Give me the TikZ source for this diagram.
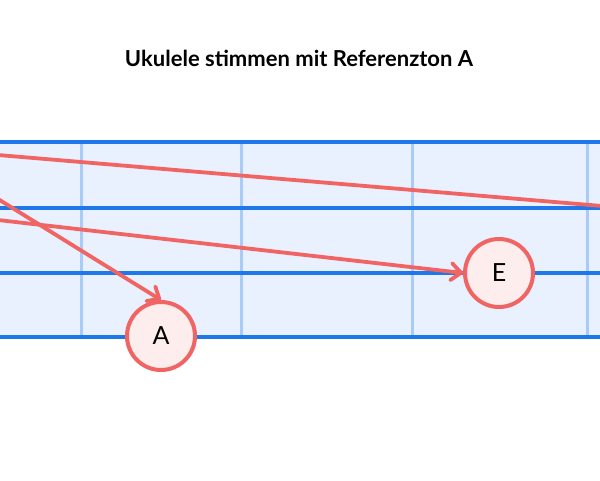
\documentclass[tikz,border=0pt]{standalone}
\usepackage{fontspec}
\setsansfont{Lato}
\usetikzlibrary{arrows.meta}
\definecolor{strblue}{HTML}{1F78EA}
\definecolor{fretblue}{HTML}{A8CBF8}
\definecolor{boardfill}{HTML}{E8F1FD}
\definecolor{redline}{HTML}{F06464}
\definecolor{notefill}{HTML}{FDEDED}
\tikzset{
  stringline/.style={draw=strblue,line width=4pt},
  fretline/.style={draw=fretblue,line width=3pt},
  arrowline/.style={draw=redline,line width=3.8pt,line cap=round,-{Straight Barb[length=10pt,width=17pt,round]}},
  plainline/.style={draw=redline,line width=3.8pt,line cap=round},
  notecircle/.style={circle,draw=redline,line width=4pt,fill=notefill,minimum size=68pt,inner sep=0pt,font=\sffamily\fontsize{25}{30}\selectfont},
  titletext/.style={font=\sffamily\bfseries\fontsize{22}{26}\selectfont}
}
\begin{document}
\begin{tikzpicture}[x=1pt,y=-1pt]
\useasboundingbox (0,0) rectangle (600,480);
\clip (0,0) rectangle (600,480);
\fill[boardfill] (0,142) rectangle (600,337);
\foreach \x in {81,241,412,587} \draw[fretline] (\x,144) -- (\x,335);
\foreach \y in {142,208,273,337} \draw[stringline] (0,\y) -- (600,\y);
\node[titletext] (title) at (299,58) {Ukulele stimmen mit Referenzton A};
\node[notecircle] (A) at (161,336) {A};
\node[notecircle] (E) at (499,273) {E};
\coordinate (s1) at (-2,155);
\coordinate (r1) at (602,206);
\coordinate (s2) at (-2,199);
\coordinate (s3) at (-2,220);
\draw[plainline] (s1) -- (r1);
\draw[arrowline] (s2) -- (A.north);
\draw[arrowline] (s3) -- (E.west);
\end{tikzpicture}
\end{document}
